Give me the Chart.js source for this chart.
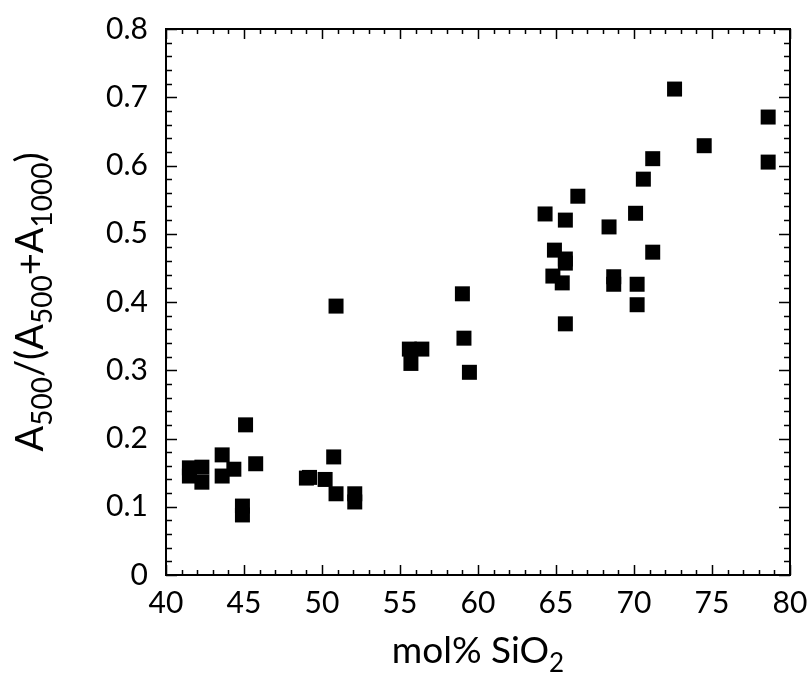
<!DOCTYPE html>
<html>
<head>
<meta charset="utf-8">
<script src="https://cdn.jsdelivr.net/npm/chart.js@4.4.1/dist/chart.umd.min.js"></script>
<style>
  html, body { margin: 0; padding: 0; background: #fff; }
  #wrap { width: 811px; height: 675px; }
</style>
</head>
<body>
<div id="wrap"><canvas id="myChart" width="811" height="675"></canvas></div>
<script>
// mol% SiO2 of each sample
const silica = [
  41.5, 41.5, 42.3, 42.3, 43.6, 43.6, 44.35, 45.1, 45.75, 44.9, 44.9,
  49.0, 49.2, 50.2, 50.75, 50.9, 50.9, 52.1, 52.1,
  55.6, 56.4, 55.7, 59.0, 59.1, 59.45,
  64.3, 66.4, 65.6, 64.9, 65.6, 65.6, 64.8, 65.4, 65.6,
  68.4, 68.7, 68.7, 70.1, 70.2, 70.2, 71.2, 70.6, 71.2,
  72.6, 74.5, 78.6, 78.6
];
// A500/(A500+A1000) for each sample
const ratio = [
  0.157, 0.145, 0.158, 0.136, 0.176, 0.145, 0.155, 0.220, 0.163, 0.101, 0.088,
  0.142, 0.143, 0.140, 0.173, 0.119, 0.394, 0.119, 0.107,
  0.331, 0.331, 0.310, 0.412, 0.347, 0.297,
  0.529, 0.555, 0.520, 0.476, 0.463, 0.457, 0.438, 0.428, 0.368,
  0.510, 0.437, 0.426, 0.530, 0.426, 0.396, 0.473, 0.580, 0.610,
  0.712, 0.629, 0.671, 0.605
];
const xTickLabels = ['40', '45', '50', '55', '60', '65', '70', '75', '80'];
const yTickLabels = ['0', '0.1', '0.2', '0.3', '0.4', '0.5', '0.6', '0.7', '0.8'];

const FONT = 'Lato';

// text with subscripts, pieces of [text, isSub]
const xTitle = [['mol% SiO', false], ['2', true]];
const yTitle = [['A', false], ['500', true], ['/(A', false], ['500', true],
                ['+A', false], ['1000', true], [')', false]];

function drawRich(ctx, parts, size, subSize, subDrop) {
  let total = 0;
  parts.forEach(p => {
    ctx.font = (p[1] ? subSize : size) + 'px ' + FONT;
    total += ctx.measureText(p[0]).width;
  });
  let x = -total / 2;
  parts.forEach(p => {
    ctx.font = (p[1] ? subSize : size) + 'px ' + FONT;
    ctx.fillText(p[0], x, p[1] ? subDrop : 0);
    x += ctx.measureText(p[0]).width;
  });
}

const frameAndTicks = {
  id: 'frameAndTicks',
  afterDatasetsDraw(chart) {
    const {ctx, chartArea: a, scales} = chart;
    const xs = scales.x, ys = scales.y;
    ctx.save();
    ctx.strokeStyle = '#000';
    ctx.lineWidth = 1.5;
    ctx.beginPath();
    for (let v = 40; v <= 80; v += 1) {
      const px = Math.round(xs.getPixelForValue(v)) + 0.5;
      const len = (v % 5 === 0) ? 10 : 5;
      ctx.moveTo(px, a.bottom); ctx.lineTo(px, a.bottom - len);
      ctx.moveTo(px, a.top); ctx.lineTo(px, a.top + len);
    }
    for (let i = 0; i <= 40; i++) {
      const v = i * 0.02;
      const py = Math.round(ys.getPixelForValue(v)) + 0.5;
      const len = (i % 5 === 0) ? 11 : 6;
      ctx.moveTo(a.left, py); ctx.lineTo(a.left + len, py);
      ctx.moveTo(a.right, py); ctx.lineTo(a.right - len, py);
    }
    ctx.stroke();
    ctx.lineWidth = 2;
    ctx.strokeRect(a.left, a.top, a.right - a.left, a.bottom - a.top);

    // axis titles
    ctx.fillStyle = '#000';
    ctx.textBaseline = 'alphabetic';
    ctx.textAlign = 'left';
    ctx.save();
    ctx.translate((a.left + a.right) / 2, 663);
    drawRich(ctx, xTitle, 37, 26, 9);
    ctx.restore();
    ctx.save();
    ctx.translate(43, (a.top + a.bottom) / 2);
    ctx.rotate(-Math.PI / 2);
    drawRich(ctx, yTitle, 38, 28, 9);
    ctx.restore();
    ctx.restore();
  }
};

new Chart(document.getElementById('myChart'), {
  type: 'scatter',
  data: {
    datasets: [{
      data: silica.map((s, i) => ({x: s, y: ratio[i]})),
      pointStyle: 'rect',
      pointRadius: 10.6,
      pointHoverRadius: 10.6,
      backgroundColor: '#000',
      borderWidth: 0
    }]
  },
  options: {
    responsive: false,
    animation: false,
    events: [],
    layout: { padding: { left: 0, right: 21, top: 29, bottom: 0 } },
    plugins: { legend: { display: false }, tooltip: { enabled: false } },
    scales: {
      x: {
        type: 'linear', min: 40, max: 80,
        grid: { display: false, drawTicks: false },
        border: { display: false },
        ticks: {
          stepSize: 5, padding: 10, color: '#000',
          font: { family: FONT, size: 30 },
          callback: (v, i) => xTickLabels[i]
        },
        afterFit: s => { s.height = 100; s.paddingLeft = 0; s.paddingRight = 0; }
      },
      y: {
        type: 'linear', min: 0, max: 0.8,
        grid: { display: false, drawTicks: false },
        border: { display: false },
        ticks: {
          stepSize: 0.1, padding: 18, color: '#000',
          font: { family: FONT, size: 30 },
          callback: (v, i) => yTickLabels[i]
        },
        afterFit: s => { s.width = 166; s.paddingTop = 0; s.paddingBottom = 0; }
      }
    }
  },
  plugins: [frameAndTicks]
});
</script>
</body>
</html>
